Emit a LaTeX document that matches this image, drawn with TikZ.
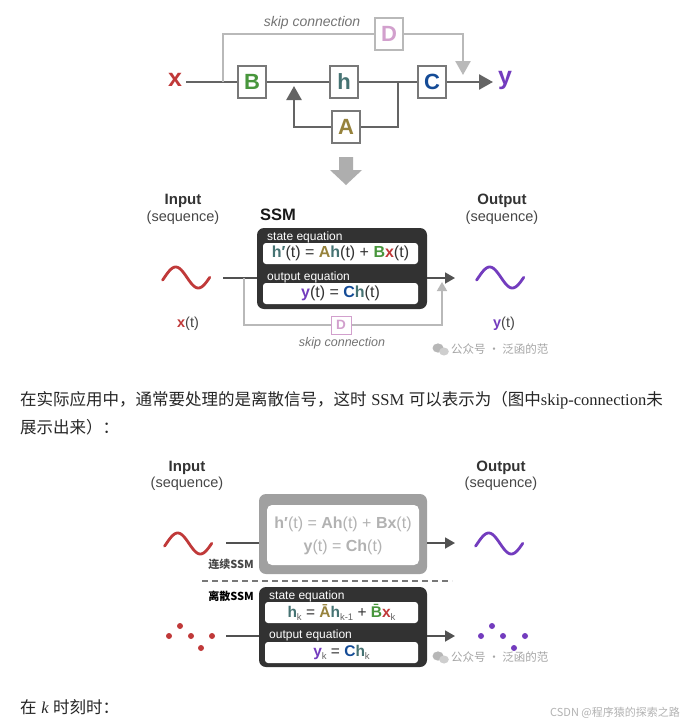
\documentclass[tikz,border=0pt]{standalone}
\usepackage{fontspec}
\setmainfont{Liberation Sans}
\newfontfamily\cjk{Noto Sans CJK SC}
\newfontfamily\serif{Liberation Serif}
\usetikzlibrary{arrows.meta}
\definecolor{cx}{RGB}{192,57,57}
\definecolor{cB}{RGB}{72,150,60}
\definecolor{ch}{RGB}{70,115,115}
\definecolor{cC}{RGB}{20,75,150}
\definecolor{cA}{RGB}{150,130,60}
\definecolor{cy}{RGB}{115,60,190}
\definecolor{cD}{RGB}{210,160,205}
\definecolor{lngray}{RGB}{100,100,100}
\definecolor{skipgray}{RGB}{185,185,185}
\definecolor{boxgray}{RGB}{120,120,120}
\definecolor{darkbox}{RGB}{50,50,50}
\definecolor{txt}{RGB}{51,51,51}
\definecolor{lightbox}{RGB}{160,160,160}
\definecolor{faint}{RGB}{178,178,178}
\definecolor{wm}{RGB}{165,165,165}
\newcommand\cBf[2]{\textbf{\color{#1}#2}}
\newcommand\sbk[1]{\raisebox{-2.5pt}{\fontsize{9.5}{9.5}\selectfont\mdseries\color{lngray}#1}}
\tikzset{
  blk/.style={draw=boxgray, line width=1.2pt, fill=white, minimum width=28pt, minimum height=32pt, inner sep=0pt, font=\fontsize{22}{22}\selectfont\bfseries},
  mainln/.style={draw=lngray, line width=2.5pt},
  skipln/.style={draw=skipgray, line width=2.5pt},
  bigtip/.style={-{Triangle[length=14pt,width=15pt]}},
  thinln/.style={draw=darkbox!85, line width=1.8pt},
  smalltip/.style={-{Triangle[length=10pt,width=11pt]}},
  thinskip/.style={draw=skipgray, line width=1.6pt},
  skiptip/.style={-{Triangle[length=9pt,width=10pt]}},
  dbox/.style={fill=darkbox, rounded corners=7pt, minimum width=170pt, minimum height=81pt, inner sep=0pt},
  wbox/.style={fill=white, rounded corners=3pt, minimum width=155pt, minimum height=21pt, inner sep=0pt, text=txt, font=\fontsize{16}{16}\selectfont},
  eqlab/.style={anchor=west, text=white, inner sep=0pt, font=\fontsize{12}{12}\selectfont},
  ttl/.style={text=txt, inner sep=0pt, font=\fontsize{15}{15}\selectfont\bfseries},
  sub/.style={text=txt!90, inner sep=0pt, font=\fontsize{14.5}{14.5}\selectfont},
  skiptxt/.style={text=lngray!90, inner sep=0pt, font=\fontsize{12.5}{12.5}\selectfont\itshape},
  wave/.style={line width=2.8pt, line cap=round},
  dot/.style={circle, inner sep=0pt, minimum size=6pt},
  wmtxt/.style={anchor=west, text=wm, inner sep=0pt, font=\cjk\fontsize{11.5}{11.5}\selectfont},
  body/.style={anchor=west, text=black!85, inner sep=0pt, font=\fontsize{16.5}{16.5}\selectfont},
}
\newcommand\wmicon[2]{%
  \fill[wm!80] (#1+5,#2-1) ellipse (5.5pt and 4.6pt);
  \fill[wm!55] (#1+11,#2+2.5) ellipse (4.8pt and 4pt);
}
\newcommand\sinewave[3]{%
  \draw[wave, #1] plot[domain=-0.25:6.3, samples=60, variable=\t] ({#2+(\t-3.14)*7.2}, {#3-10.5*sin(\t r)});
}
\begin{document}
\begin{tikzpicture}[x=1pt, y=-1pt]
\path[use as bounding box, fill=white] (0,0) rectangle (697,726);

% ---------------- top block diagram ----------------
\node[inner sep=0pt, text=cx, font=\fontsize{25}{25}\selectfont\bfseries] (x) at (175,80) {x};
\node[inner sep=0pt, text=cy, font=\fontsize{25}{25}\selectfont\bfseries] (y) at (505,80) {y};
\coordinate (x0) at (186,82);
\coordinate (s0) at (223,82);
\coordinate (j1) at (398,82);
\coordinate (ytip) at (493,82);
\coordinate (atip) at (294,86);
\coordinate (stip) at (463,75);
\node[blk, text=cB] (B) at (252,82) {B};
\node[blk, text=ch] (h) at (344,82) {h};
\node[blk, text=cC] (C) at (432,82) {C};
\node[blk, text=cA] (A) at (346,127) {A};
\node[blk, draw=skipgray, text=cD] (D) at (389,34) {D};
\node[skiptxt, font=\fontsize{14}{14}\selectfont\itshape] (sk1) at (312,23) {skip connection};

\draw[mainln] (x0) -- (B.west);
\draw[mainln] (B.east) -- (h.west);
\draw[mainln] (h.east) -- (C.west);
\draw[mainln, bigtip] (C.east) -- (ytip);
\draw[mainln] (j1) |- (A.east);
\draw[mainln, bigtip] (A.west) -| (atip);
\draw[skipln] (s0) |- (D.west);
\draw[skipln, bigtip] (D.east) -| (stip);

% big block arrow
\fill[lightbox!85] (339,157) -- (353,157) -- (353,170) -- (362,170) -- (346,185) -- (330,170) -- (339,170) -- cycle;

% ---------------- continuous SSM ----------------
\node[ttl] (in1) at (183,201) {Input};
\node[sub] (in2) at (183,218) {(sequence)};
\node[ttl] (out1) at (502,201) {Output};
\node[sub] (out2) at (502,218) {(sequence)};
\node[ttl, font=\fontsize{16.5}{16.5}\selectfont\bfseries, text=black!90] (ssm) at (278,215) {SSM};
\node[dbox] (db1) at (342,268.5) {};
\node[eqlab] (st1) at (267,237) {state equation};
\node[wbox] (eq1) at (340.5,253.5) {\cBf{ch}{h′}(t) = \cBf{cA}{A}\cBf{ch}{h}(t) + \cBf{cB}{B}\cBf{cx}{x}(t)};
\node[eqlab] (ot1) at (267,277) {output equation};
\node[wbox] (eq2) at (340.5,293.5) {\cBf{cy}{y}(t) = \cBf{cC}{C}\cBf{ch}{h}(t)};

\sinewave{cx}{187}{277.5}
\sinewave{cy}{501}{277.5}
\node[sub] (xt) at (188,324) {\cBf{cx}{x}(t)};
\node[sub] (yt) at (504,324) {\cBf{cy}{y}(t)};

\coordinate (l0) at (223,278);
\coordinate (k0) at (244,278);
\coordinate (otip) at (455,278);
\coordinate (ktip) at (442,282);
\node[draw=cD, line width=1pt, fill=white, minimum width=20pt, minimum height=18pt, inner sep=0pt, text=cD, font=\fontsize{13.5}{13.5}\selectfont\bfseries] (Dm) at (341,325) {D};
\draw[thinln] (l0) -- (l0 -| db1.west);
\draw[thinskip] (k0) |- (Dm.west);
\draw[thinskip, skiptip] (Dm.east) -| (ktip);
\draw[thinln, smalltip] (l0 -| db1.east) -- (otip);
\node[skiptxt] (sk2) at (342,343) {skip connection};

\wmicon{433}{349}
\node[wmtxt] (wm1) at (451,349) {公众号 · 泛函的范};

% ---------------- paragraph ----------------
\node[body] (p1) at (20,400) {{\cjk 在实际应用中，通常要处理的是离散信号，这时}\ {\serif SSM}\ {\cjk 可以表示为（图中}{\serif skip-connection}{\cjk 未}};
\node[body] (p2) at (20,427) {{\cjk 展示出来）：}};

% ---------------- continuous vs discrete ----------------
\node[ttl] (in3) at (187,468) {Input};
\node[sub] (in4) at (187,484) {(sequence)};
\node[ttl] (out3) at (501,468) {Output};
\node[sub] (out4) at (501,484) {(sequence)};

\node[dbox, fill=lightbox, minimum width=168pt, minimum height=80pt] (gb) at (343,534) {};
\node[fill=white, rounded corners=5pt, minimum width=152pt, minimum height=60pt, inner sep=0pt] (gw) at (343,535) {};
\node[inner sep=0pt, text=faint, font=\fontsize{16}{16}\selectfont] (ge1) at (343,524) {\textbf{h′}(t) = \textbf{Ah}(t) + \textbf{Bx}(t)};
\node[inner sep=0pt, text=faint, font=\fontsize{16}{16}\selectfont] (ge2) at (343,547) {\textbf{y}(t) = \textbf{Ch}(t)};

\sinewave{cx}{189}{543.5}
\sinewave{cy}{500}{543.5}
\coordinate (l1) at (226,543);
\coordinate (otip2) at (455,543);
\draw[thinln] (l1) -- (l1 -| gb.west);
\draw[thinln, smalltip] (l1 -| gb.east) -- (otip2);
\node[inner sep=0pt, text=txt!90, font=\cjk\fontsize{11}{11}\selectfont\bfseries] (lx) at (231,564) {连续SSM};

\coordinate (dl0) at (202,581);
\coordinate (dl1) at (452,581);
\draw[draw=boxgray, line width=1.2pt, dash pattern=on 6pt off 4pt] (dl0) -- (dl1);

\node[inner sep=0pt, text=black, font=\cjk\fontsize{11}{11}\selectfont\bfseries] (ls) at (231,596) {离散SSM};
\node[dbox, minimum width=168pt, minimum height=80pt] (db2) at (343,627) {};
\node[eqlab] (st2) at (269,596) {state equation};
\node[wbox, minimum width=153pt, font=\fontsize{15.5}{15.5}\selectfont] (eq3) at (341.5,612.5) {\cBf{ch}{h}\sbk{k} = \cBf{cA}{\=A}\cBf{ch}{h}\sbk{k-1} + \cBf{cB}{\=B}\cBf{cx}{x}\sbk{k}};
\node[eqlab] (ot2) at (269,635) {output equation};
\node[wbox, minimum width=153pt, font=\fontsize{15.5}{15.5}\selectfont] (eq4) at (341.5,652.5) {\cBf{cy}{y}\sbk{k} = \cBf{cC}{C}\cBf{ch}{h}\sbk{k}};

\node[dot, fill=cx] (r1) at (169,636) {};
\node[dot, fill=cx] (r2) at (180,626) {};
\node[dot, fill=cx] (r3) at (191,636) {};
\node[dot, fill=cx] (r4) at (201,648) {};
\node[dot, fill=cx] (r5) at (212,636) {};
\node[dot, fill=cy] (u1) at (481,636) {};
\node[dot, fill=cy] (u2) at (492,626) {};
\node[dot, fill=cy] (u3) at (503,636) {};
\node[dot, fill=cy] (u4) at (514,648) {};
\node[dot, fill=cy] (u5) at (525,636) {};
\coordinate (l2) at (226,636);
\coordinate (otip3) at (455,636);
\draw[thinln] (l2) -- (l2 -| db2.west);
\draw[thinln, smalltip] (l2 -| db2.east) -- (otip3);

\wmicon{433}{657}
\node[wmtxt] (wm2) at (451,657) {公众号 · 泛函的范};

% ---------------- bottom line ----------------
\node[body] (p3) at (20,707) {{\cjk 在}\ {\serif\itshape k}\ {\cjk 时刻时：}};
\node[inner sep=0pt, text=black!30, font=\cjk\fontsize{11}{11}\selectfont] (csdn) at (615,713) {CSDN @程序猿的探索之路};
\end{tikzpicture}
\end{document}
